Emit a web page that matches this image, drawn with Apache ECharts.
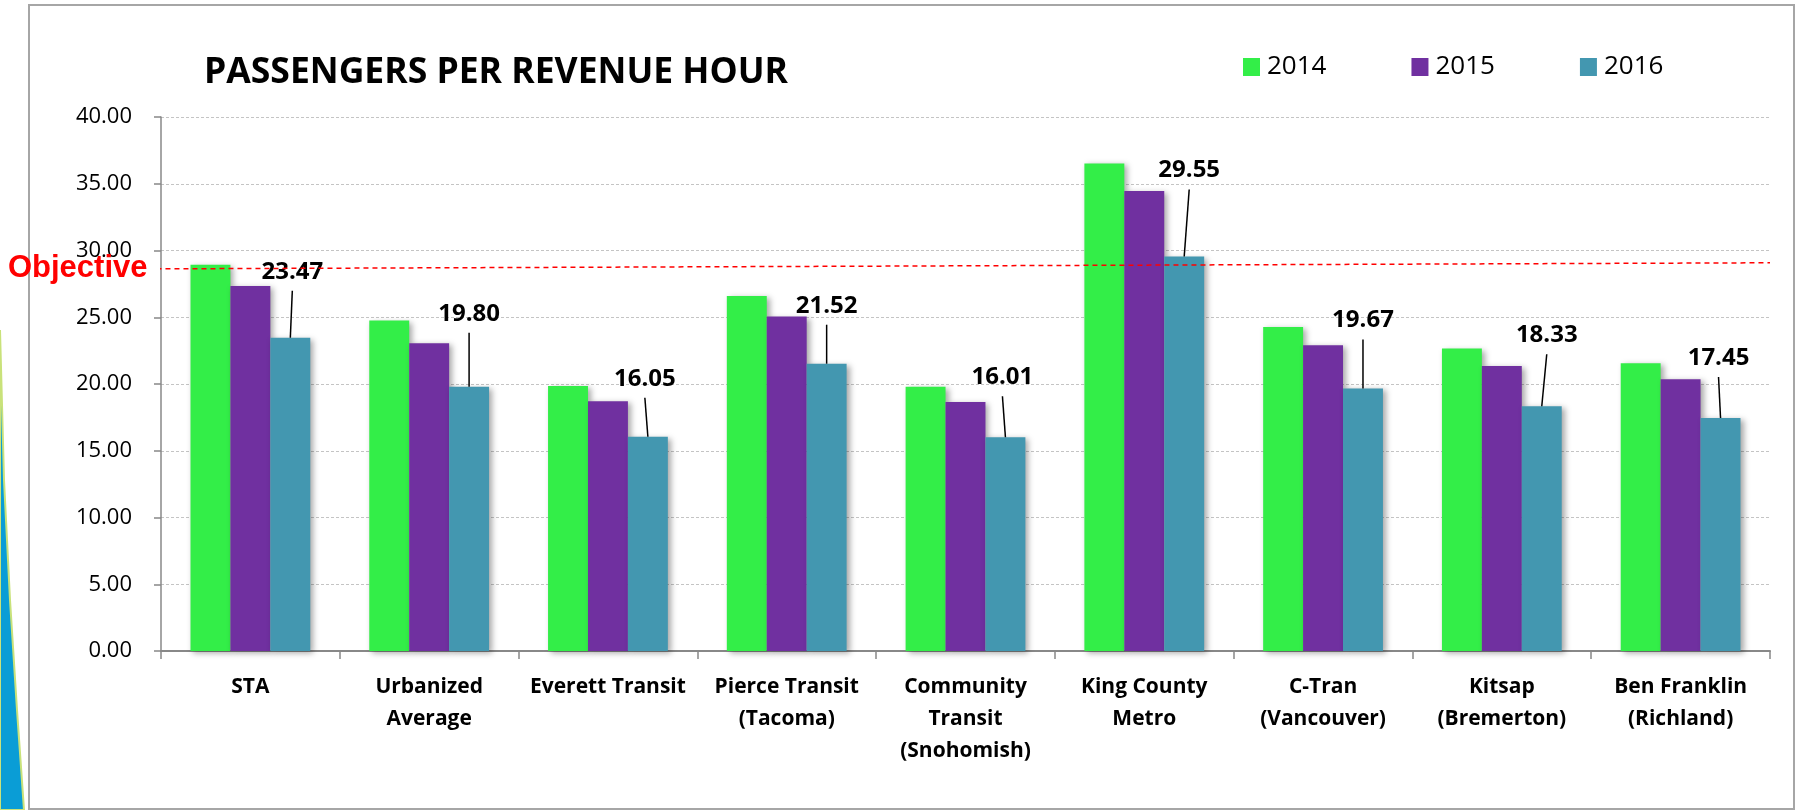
<!DOCTYPE html>
<html lang="en">
<head>
    <meta charset="UTF-8">
    <title>Passengers per revenue hour</title>
    <script src="https://cdn.jsdelivr.net/npm/echarts@6/dist/echarts.min.js"></script>
    <style>
        html, body { margin: 0; padding: 0; background: #fff; }
        #chart { width: 1796px; height: 810px; }
    </style>
</head>
<body>
    <div id="chart"></div>
    <script>
        // data
        var years = ['2014', '2015', '2016'];
        var categories = ['STA', 'Urbanized\nAverage', 'Everett Transit', 'Pierce Transit\n(Tacoma)',
            'Community\nTransit\n(Snohomish)', 'King County\nMetro', 'C-Tran\n(Vancouver)',
            'Kitsap\n(Bremerton)', 'Ben Franklin\n(Richland)'];
        var values2014 = [28.93, 24.75, 19.85, 26.60, 19.80, 36.52, 24.27, 22.65, 21.55];
        var values2015 = [27.35, 23.05, 18.70, 25.05, 18.65, 34.45, 22.90, 21.35, 20.35];
        var values2016 = [23.47, 19.80, 16.05, 21.52, 16.01, 29.55, 19.67, 18.33, 17.45];
        var yMin = 0, yMax = 40, yStep = 5;
        // objective line is drawn slightly slanted: value at left end, value at right end
        var objectiveEnds = [28.62, 29.08];

        // layout only: where each 2016 callout sits relative to its bar top (px)
        var labelLift = [67, 74, 59, 59, 61, 87, 69, 72, 61];
        var labelShift = [2, 0, -3, 0, -3, 5, 0, 5, -2];

        var colors = ['#33ee48', '#7030a0', '#4397b0'];
        var font = 'Open Sans';
        var catGap = 0.33;

        var chart = echarts.init(document.getElementById('chart'));

        function barSeries (idx, data) {
            return {
                name: years[idx],
                type: 'bar',
                data: data,
                barGap: 0,
                barCategoryGap: (catGap * 100) + '%',
                itemStyle: {
                    color: colors[idx],
                    shadowColor: 'rgba(0,0,0,0.35)',
                    shadowBlur: 6,
                    shadowOffsetX: 3,
                    shadowOffsetY: 2
                }
            };
        }

        var s2016 = barSeries(2, values2016);
        s2016.label = {
            show: true,
            position: 'top',
            formatter: function (p) { return p.value.toFixed(2); },
            fontFamily: font,
            fontWeight: 'bold',
            fontSize: 24,
            color: '#000'
        };
        s2016.labelLayout = function (p) {
            return {
                x: p.rect.x + p.rect.width / 2 + labelShift[p.dataIndex],
                y: p.rect.y - labelLift[p.dataIndex] + 1,
                align: 'center',
                verticalAlign: 'middle'
            };
        };

        // leader lines from each 2016 bar top up to its callout
        var leaders = {
            type: 'custom',
            silent: true,
            z: 4,
            data: values2016.map(function (v, i) { return [i, v]; }),
            renderItem: function (params, api) {
                var i = api.value(0);
                var pt = api.coord([i, api.value(1)]);
                var catW = api.size([1, 0])[0];
                var barW = catW * (1 - catGap) / 3;
                var cx = pt[0] + barW;
                return {
                    type: 'line',
                    shape: { x1: cx, y1: pt[1], x2: cx + labelShift[i], y2: pt[1] - labelLift[i] + 20 },
                    style: { stroke: '#000', lineWidth: 1.5 }
                };
            }
        };

        var option = {
            animation: false,
            backgroundColor: '#fff',
            title: {
                text: 'PASSENGERS PER REVENUE HOUR',
                left: 199,
                top: 50,
                textStyle: { fontFamily: font, fontWeight: 'bold', fontSize: 35.5, color: '#000' }
            },
            legend: {
                data: years,
                left: 1238,
                top: 49,
                icon: 'rect',
                itemWidth: 17,
                itemHeight: 18,
                itemGap: 85,
                textStyle: { fontFamily: font, fontSize: 26, color: '#000', padding: [0, 0, 0, 2] }
            },
            grid: { left: 161, right: 26, top: 117, bottom: 159 },
            xAxis: [{
                type: 'category',
                data: categories,
                axisLine: { lineStyle: { color: '#888', width: 2 } },
                axisTick: { show: true, length: 8, lineStyle: { color: '#888', width: 1.5 } },
                axisLabel: {
                    interval: 0,
                    margin: 20,
                    fontFamily: font,
                    fontWeight: 'bold',
                    fontSize: 21,
                    lineHeight: 32,
                    color: '#000'
                }
            }, {
                type: 'value',
                min: 0,
                max: 1,
                show: false
            }],
            yAxis: {
                type: 'value',
                min: yMin,
                max: yMax,
                interval: yStep,
                axisLine: { show: true, lineStyle: { color: '#888', width: 1.5 } },
                axisTick: { show: true, length: 7, lineStyle: { color: '#888', width: 1.5 } },
                axisLabel: {
                    margin: 29,
                    fontFamily: font,
                    fontSize: 22,
                    color: '#000',
                    formatter: function (v) { return v.toFixed(2); }
                },
                splitLine: { lineStyle: { color: '#c4c4c4', type: [3, 2], width: 1.2 } }
            },
            graphic: [{
                type: 'rect',
                shape: { x: 29, y: 5, width: 1765, height: 804 },
                style: { fill: 'none', stroke: '#a6a6a6', lineWidth: 2 },
                z: -1
            }, {
                type: 'polygon',
                shape: { points: [[0, 330], [4, 480], [10, 600], [17, 710], [24, 810], [0, 810]] },
                style: { fill: '#0a9dd6', stroke: '#c9e27a', lineWidth: 2 },
                z: -1
            }],
            series: [
                barSeries(0, values2014),
                barSeries(1, values2015),
                s2016,
                leaders,
                {
                    name: 'Objective',
                    type: 'line',
                    xAxisIndex: 1,
                    clip: false,
                    symbol: 'circle',
                    symbolSize: 0,
                    z: 5,
                    lineStyle: { color: '#ff0000', width: 1.5, type: [5, 4] },
                    data: [
                        {
                            value: [-0.014, objectiveEnds[0]],
                            label: {
                                show: true,
                                position: 'left',
                                distance: -9,
                                formatter: 'Objective',
                                fontFamily: 'Liberation Sans',
                                fontWeight: 'bold',
                                fontSize: 31,
                                color: '#ff0000'
                            }
                        },
                        [1, objectiveEnds[1]]
                    ]
                }
            ]
        };

        chart.setOption(option);
    </script>
</body>
</html>
